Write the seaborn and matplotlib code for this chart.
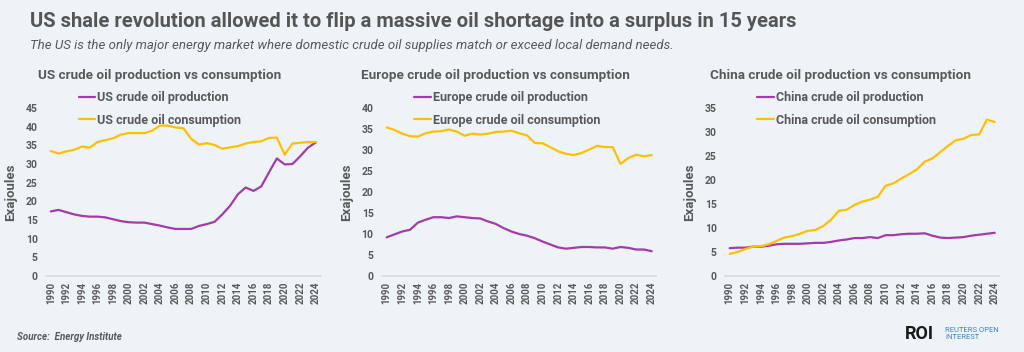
import numpy as np
import pandas as pd
import seaborn as sns
from matplotlib import pyplot as plt

years = list(range(1990, 2025))

us_production = [17.3, 17.7, 17.1, 16.5, 16.1, 15.9, 15.9, 15.7, 15.2, 14.7,
                 14.4, 14.3, 14.3, 13.9, 13.5, 13.0, 12.6, 12.6, 12.6, 13.4,
                 13.9, 14.5, 16.5, 18.8, 21.9, 23.7, 22.8, 24.0, 27.8, 31.5,
                 29.9, 30.0, 32.1, 34.4, 35.8]
us_consumption = [33.5, 32.8, 33.4, 33.8, 34.7, 34.4, 35.9, 36.4, 36.9, 37.9,
                  38.3, 38.3, 38.3, 38.9, 40.3, 40.3, 39.8, 39.6, 36.8, 35.2,
                  35.6, 35.1, 34.1, 34.5, 34.8, 35.5, 35.9, 36.1, 37.0, 37.1,
                  32.5, 35.5, 35.7, 35.9, 35.9]

europe_production = [9.2, 9.9, 10.6, 11.0, 12.7, 13.4, 14.0, 14.0, 13.8, 14.2,
                     14.0, 13.8, 13.7, 13.0, 12.4, 11.4, 10.6, 10.0, 9.6, 9.0,
                     8.2, 7.5, 6.8, 6.5, 6.7, 6.9, 6.9, 6.8, 6.8, 6.5,
                     6.9, 6.7, 6.3, 6.3, 5.9]
europe_consumption = [35.4, 34.8, 33.9, 33.3, 33.2, 34.0, 34.4, 34.5, 34.9, 34.4,
                      33.4, 33.9, 33.7, 33.9, 34.3, 34.4, 34.6, 34.0, 33.5, 31.7,
                      31.6, 30.7, 29.7, 29.1, 28.8, 29.3, 30.1, 31.0, 30.7, 30.7,
                      26.7, 28.1, 28.9, 28.5, 28.8]

china_production = [5.8, 5.9, 5.9, 6.1, 6.1, 6.3, 6.6, 6.7, 6.7, 6.7,
                    6.8, 6.9, 6.9, 7.1, 7.4, 7.6, 7.9, 7.9, 8.1, 7.9,
                    8.5, 8.5, 8.7, 8.8, 8.8, 8.9, 8.4, 8.0, 7.9, 8.0,
                    8.1, 8.4, 8.6, 8.8, 9.0]
china_consumption = [4.6, 5.0, 5.6, 6.1, 6.2, 6.6, 7.3, 8.0, 8.3, 8.8,
                     9.4, 9.6, 10.4, 11.7, 13.6, 13.8, 14.8, 15.5, 15.9, 16.5,
                     18.8, 19.3, 20.3, 21.2, 22.2, 23.8, 24.5, 25.8, 27.1, 28.3,
                     28.6, 29.4, 29.5, 32.6, 32.1]

BG = "#EEF3F8"
TXT = "#595959"
PURPLE = "#A43BA8"
GOLD = "#FFC000"

sns.set_style("white")
plt.rcParams["font.family"] = ["Roboto", "DejaVu Sans"]

fig = plt.figure(figsize=(10.24, 3.52), dpi=100, facecolor=BG)

# region, production, consumption, y max, axes left, title offset (axes fraction)
panels = [
    ("US", us_production, us_consumption, 45, 0.045, -0.03),
    ("Europe", europe_production, europe_consumption, 40, 0.373, -0.075),
    ("China", china_production, china_consumption, 35, 0.708, -0.055),
]

for region, prod, cons, ymax, left, tx in panels:
    df = pd.DataFrame({
        "Year": years * 2,
        "Exajoules": prod + cons,
        "Series": [f"{region} crude oil production"] * len(years)
                  + [f"{region} crude oil consumption"] * len(years),
    })
    ax = fig.add_axes([left, 0.216, 0.268, 0.477])
    ax.set_facecolor(BG)
    sns.lineplot(data=df, x="Year", y="Exajoules", hue="Series",
                 palette=[PURPLE, GOLD], linewidth=1.6, ax=ax)
    ax.set_xlim(1989.4, 2024.6)
    ax.set_ylim(0, ymax)
    ax.set_yticks(np.arange(0, ymax + 1, 5))
    ax.set_xticks(range(1990, 2025, 2))
    ax.tick_params(axis="x", labelrotation=90, labelsize=7, colors=TXT, length=0, pad=4)
    ax.tick_params(axis="y", labelsize=7.5, colors=TXT, length=0, pad=6)
    for lab in ax.get_yticklabels() + ax.get_xticklabels():
        lab.set_fontweight("bold")
    for s in ["top", "right", "left"]:
        ax.spines[s].set_visible(False)
    ax.spines["bottom"].set_color("#D9D9D9")
    ax.spines["bottom"].set_linewidth(1.2)
    ax.set_xlabel(None)
    ax.set_ylabel("Exajoules", fontsize=9.5, color=TXT, fontweight="bold", labelpad=6)
    ax.set_title(f"{region} crude oil production vs consumption", fontsize=9.7,
                 color=TXT, fontweight="bold", loc="left", x=tx, pad=21)
    leg = ax.legend(loc="upper left", bbox_to_anchor=(0.1, 1.13), frameon=False,
                    fontsize=9, handlelength=1.3, handletextpad=0.2, labelspacing=0.75,
                    borderaxespad=0)
    for t in leg.get_texts():
        t.set_color(TXT)
        t.set_fontweight("bold")

fig.text(0.029, 0.94, "US shale revolution allowed it to flip a massive oil shortage into a surplus in 15 years",
         fontsize=14.5, fontweight="bold", color="#555555", va="center")
fig.text(0.029, 0.872, "The US is the only major energy market where domestic crude oil supplies match or exceed local demand needs.",
         fontsize=9.5, style="italic", color=TXT, va="center")
fig.text(0.017, 0.043, "Source:  Energy Institute", fontsize=7, style="italic",
         fontweight="bold", color=TXT, va="center")
fig.text(0.884, 0.052, "ROI", fontsize=13, fontweight="bold", color="#1A1A1A", va="center")
fig.text(0.923, 0.052, "REUTERS OPEN\nINTEREST", fontsize=5.5, color="#3B82C4",
         va="center", linespacing=1.2)

fig.savefig("out.png", dpi=100, facecolor=BG)
